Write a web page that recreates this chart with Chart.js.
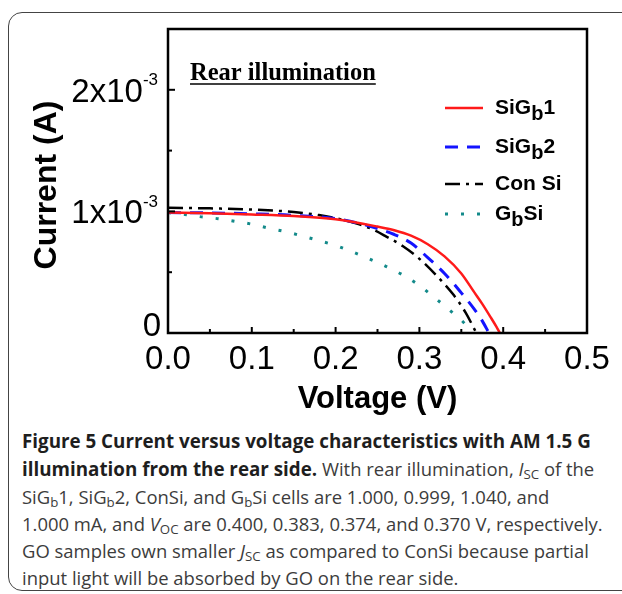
<!DOCTYPE html>
<html>
<head>
<meta charset="utf-8">
<script src="https://cdn.jsdelivr.net/npm/chart.js@4.4.0/dist/chart.umd.min.js"></script>
<style>
  body { margin: 0; width: 622px; height: 594px; background: #fff; overflow: hidden; position: relative; }
  #box { position: absolute; left: 8px; top: 12px; width: 660px; height: 577px; border: 1.5px solid #444; border-radius: 14px; }
  #wrap { position: absolute; left: 0; top: 0; width: 622px; height: 420px; }
  #caption { position: absolute; left: 22px; top: 427px; font-family: 'Open Sans', sans-serif; font-size: 18.45px; line-height: 27px; color: #3c3c3c; white-space: nowrap; }
  #caption b { color: #1e1e1e; font-size: 18.8px; }
  #caption sub { font-size: 0.72em; vertical-align: -0.2em; line-height: 0; }
</style>
</head>
<body>
<div id="box"></div>
<div id="wrap"><canvas id="ivChart" width="622" height="420"></canvas></div>
<div id="caption">
  <div><b>Figure 5 Current versus voltage characteristics with AM 1.5 G</b></div>
  <div><b>illumination from the rear side.</b> With rear illumination, <i>I</i><sub>SC</sub> of the</div>
  <div>SiG<sub>b</sub>1, SiG<sub>b</sub>2, ConSi, and G<sub>b</sub>Si cells are 1.000, 0.999, 1.040, and</div>
  <div>1.000 mA, and <i>V</i><sub>OC</sub> are 0.400, 0.383, 0.374, and 0.370 V, respectively.</div>
  <div>GO samples own smaller <i>J</i><sub>SC</sub> as compared to ConSi because partial</div>
  <div>input light will be absorbed by GO on the rear side.</div>
</div>
<script>
// voltage (V) and current (mA)
const sigb1V = [0, 0.05, 0.1, 0.15, 0.2, 0.25, 0.27, 0.29, 0.31, 0.33, 0.35, 0.365, 0.375, 0.385, 0.392, 0.396];
const sigb1I = [0.99, 0.985, 0.975, 0.962, 0.935, 0.875, 0.845, 0.80, 0.73, 0.63, 0.49, 0.34, 0.24, 0.13, 0.05, 0.0];

const sigb2V = [0, 0.05, 0.1, 0.15, 0.2, 0.24, 0.27, 0.29, 0.31, 0.33, 0.35, 0.365, 0.375, 0.383];
const sigb2I = [0.99, 0.988, 0.98, 0.968, 0.94, 0.88, 0.81, 0.74, 0.62, 0.49, 0.33, 0.2, 0.1, 0.0];

const conSiV = [0, 0.05, 0.1, 0.15, 0.18, 0.2, 0.22, 0.24, 0.26, 0.28, 0.30, 0.32, 0.34, 0.355, 0.368];
const conSiI = [1.03, 1.025, 1.015, 0.995, 0.97, 0.945, 0.91, 0.865, 0.795, 0.715, 0.61, 0.475, 0.32, 0.17, 0.0];

const gbSiV = [0, 0.02, 0.04, 0.06, 0.08, 0.10, 0.12, 0.14, 0.16, 0.18, 0.20, 0.22, 0.24, 0.26, 0.28, 0.30, 0.32, 0.34, 0.355, 0.362];
const gbSiI = [0.99, 0.975, 0.955, 0.94, 0.918, 0.895, 0.862, 0.834, 0.798, 0.76, 0.72, 0.668, 0.61, 0.548, 0.478, 0.39, 0.28, 0.165, 0.07, 0.0];

// legend names: [text, subscript, text]
const seriesNames = [['SiG', 'b', '1'], ['SiG', 'b', '2'], ['Con Si', '', ''], ['G', 'b', 'Si']];

const xTickValues = [0, 0.1, 0.2, 0.3, 0.4, 0.5];
const yTickValues = [0, 0.001, 0.002];
const yTickBase = ['0', '1x10', '2x10'];
const yTickExp = ['', '-3', '-3'];

const colors = ['#ff1a1a', '#1414ff', '#000000', '#138a8a'];
const dashes = [[], [13, 9], [15, 6, 3, 6], [3, 13]];
const widths = [2.5, 3, 2.5, 3];

function toPoints(vs, is) {
  return vs.map((v, i) => ({ x: v, y: is[i] * 1e-3 }));
}

const seriesData = [
  toPoints(sigb1V, sigb1I),
  toPoints(sigb2V, sigb2I),
  toPoints(conSiV, conSiI),
  toPoints(gbSiV, gbSiI)
];

const sans = "'Liberation Sans', Arial, sans-serif";

// frame, inward ticks, y labels, titles and legend
const decorations = {
  id: 'decorations',
  afterDraw(chart) {
    const ctx = chart.ctx;
    const a = chart.chartArea;
    const xs = chart.scales.x;
    const ys = chart.scales.y;
    ctx.save();
    ctx.strokeStyle = '#000';
    ctx.lineWidth = 2.5;
    ctx.strokeRect(a.left, a.top, a.right - a.left, a.bottom - a.top);

    // x ticks (inside)
    ctx.lineWidth = 2;
    for (let v = 0.05; v < 0.5; v += 0.05) {
      const px = xs.getPixelForValue(v);
      const major = Math.abs(v * 10 - Math.round(v * 10)) < 1e-6;
      ctx.beginPath();
      ctx.moveTo(px, a.bottom);
      ctx.lineTo(px, a.bottom - (major ? 6 : 4));
      ctx.stroke();
    }
    // y ticks (inside)
    for (let v = 0.0005; v < 0.0025; v += 0.0005) {
      const py = ys.getPixelForValue(v);
      const major = Math.abs(v * 1000 - Math.round(v * 1000)) < 1e-6;
      ctx.beginPath();
      ctx.moveTo(a.left, py);
      ctx.lineTo(a.left + (major ? 7 : 4), py);
      ctx.stroke();
    }

    // y tick labels
    ctx.fillStyle = '#000';
    ctx.textBaseline = 'middle';
    yTickValues.forEach((v, i) => {
      const py = ys.getPixelForValue(v);
      ctx.textAlign = 'right';
      if (yTickExp[i]) {
        ctx.font = '17px ' + sans;
        const ew = ctx.measureText(yTickExp[i]).width;
        ctx.fillText(yTickExp[i], 158, py - 9);
        ctx.font = '33px ' + sans;
        ctx.fillText(yTickBase[i], 158 - ew, py + 3);
      } else {
        ctx.font = '33px ' + sans;
        ctx.fillText(yTickBase[i], 161, py - 6);
      }
    });

    // axis titles
    ctx.font = 'bold 31px ' + sans;
    ctx.textAlign = 'center';
    ctx.fillText('Voltage (V)', (a.left + a.right) / 2, 399);
    ctx.save();
    ctx.translate(47, 185);
    ctx.rotate(-Math.PI / 2);
    ctx.font = 'bold 32px ' + sans;
    ctx.fillText('Current (A)', 0, 0);
    ctx.restore();

    // panel label
    ctx.font = "bold 24.5px 'Liberation Serif', 'Times New Roman', serif";
    ctx.textAlign = 'left';
    ctx.textBaseline = 'alphabetic';
    const label = 'Rear illumination';
    ctx.fillText(label, 190, 80);
    const lw = ctx.measureText(label).width;
    ctx.lineWidth = 1.5;
    ctx.beginPath();
    ctx.moveTo(190, 84);
    ctx.lineTo(190 + lw, 84);
    ctx.stroke();

    // legend
    const rowY = [108, 147, 184, 214];
    seriesNames.forEach((parts, i) => {
      const y = rowY[i];
      ctx.strokeStyle = colors[i];
      ctx.lineWidth = widths[i];
      ctx.setLineDash(dashes[i]);
      ctx.beginPath();
      ctx.moveTo(445, y);
      ctx.lineTo(483, y);
      ctx.stroke();
      ctx.setLineDash([]);
      ctx.fillStyle = '#000';
      ctx.textBaseline = 'middle';
      ctx.textAlign = 'left';
      let x = 495;
      ctx.font = 'bold 21px ' + sans;
      ctx.fillText(parts[0], x, y);
      x += ctx.measureText(parts[0]).width;
      if (parts[1]) {
        ctx.font = 'bold 20px ' + sans;
        ctx.fillText(parts[1], x, y + 6);
        x += ctx.measureText(parts[1]).width;
      }
      ctx.font = 'bold 21px ' + sans;
      ctx.fillText(parts[2], x, y);
    });
    ctx.restore();
  }
};

const ctx = document.getElementById('ivChart').getContext('2d');
new Chart(ctx, {
  type: 'line',
  data: {
    datasets: seriesData.map((pts, i) => ({
      label: seriesNames[i].join(''),
      data: pts,
      borderColor: colors[i],
      borderWidth: widths[i],
      borderDash: dashes[i],
      pointRadius: 0,
      fill: false,
      cubicInterpolationMode: 'monotone'
    }))
  },
  options: {
    responsive: false,
    animation: false,
    layout: { padding: { top: 29, right: 35, left: 0, bottom: 0 } },
    plugins: { legend: { display: false }, tooltip: { enabled: false } },
    scales: {
      x: {
        type: 'linear',
        min: 0,
        max: 0.5,
        grid: { display: false, drawTicks: false },
        border: { display: false },
        afterBuildTicks(scale) {
          scale.ticks = xTickValues.map(v => ({ value: v }));
        },
        ticks: {
          padding: 7,
          color: '#000',
          font: { family: sans, size: 33 },
          callback: v => v.toFixed(1)
        },
        afterFit(scale) { scale.height = 87; }
      },
      y: {
        type: 'linear',
        min: 0,
        max: 0.0025,
        grid: { display: false, drawTicks: false },
        border: { display: false },
        ticks: { display: false },
        afterFit(scale) { scale.width = 168; }
      }
    }
  },
  plugins: [decorations]
});
</script>
</body>
</html>
